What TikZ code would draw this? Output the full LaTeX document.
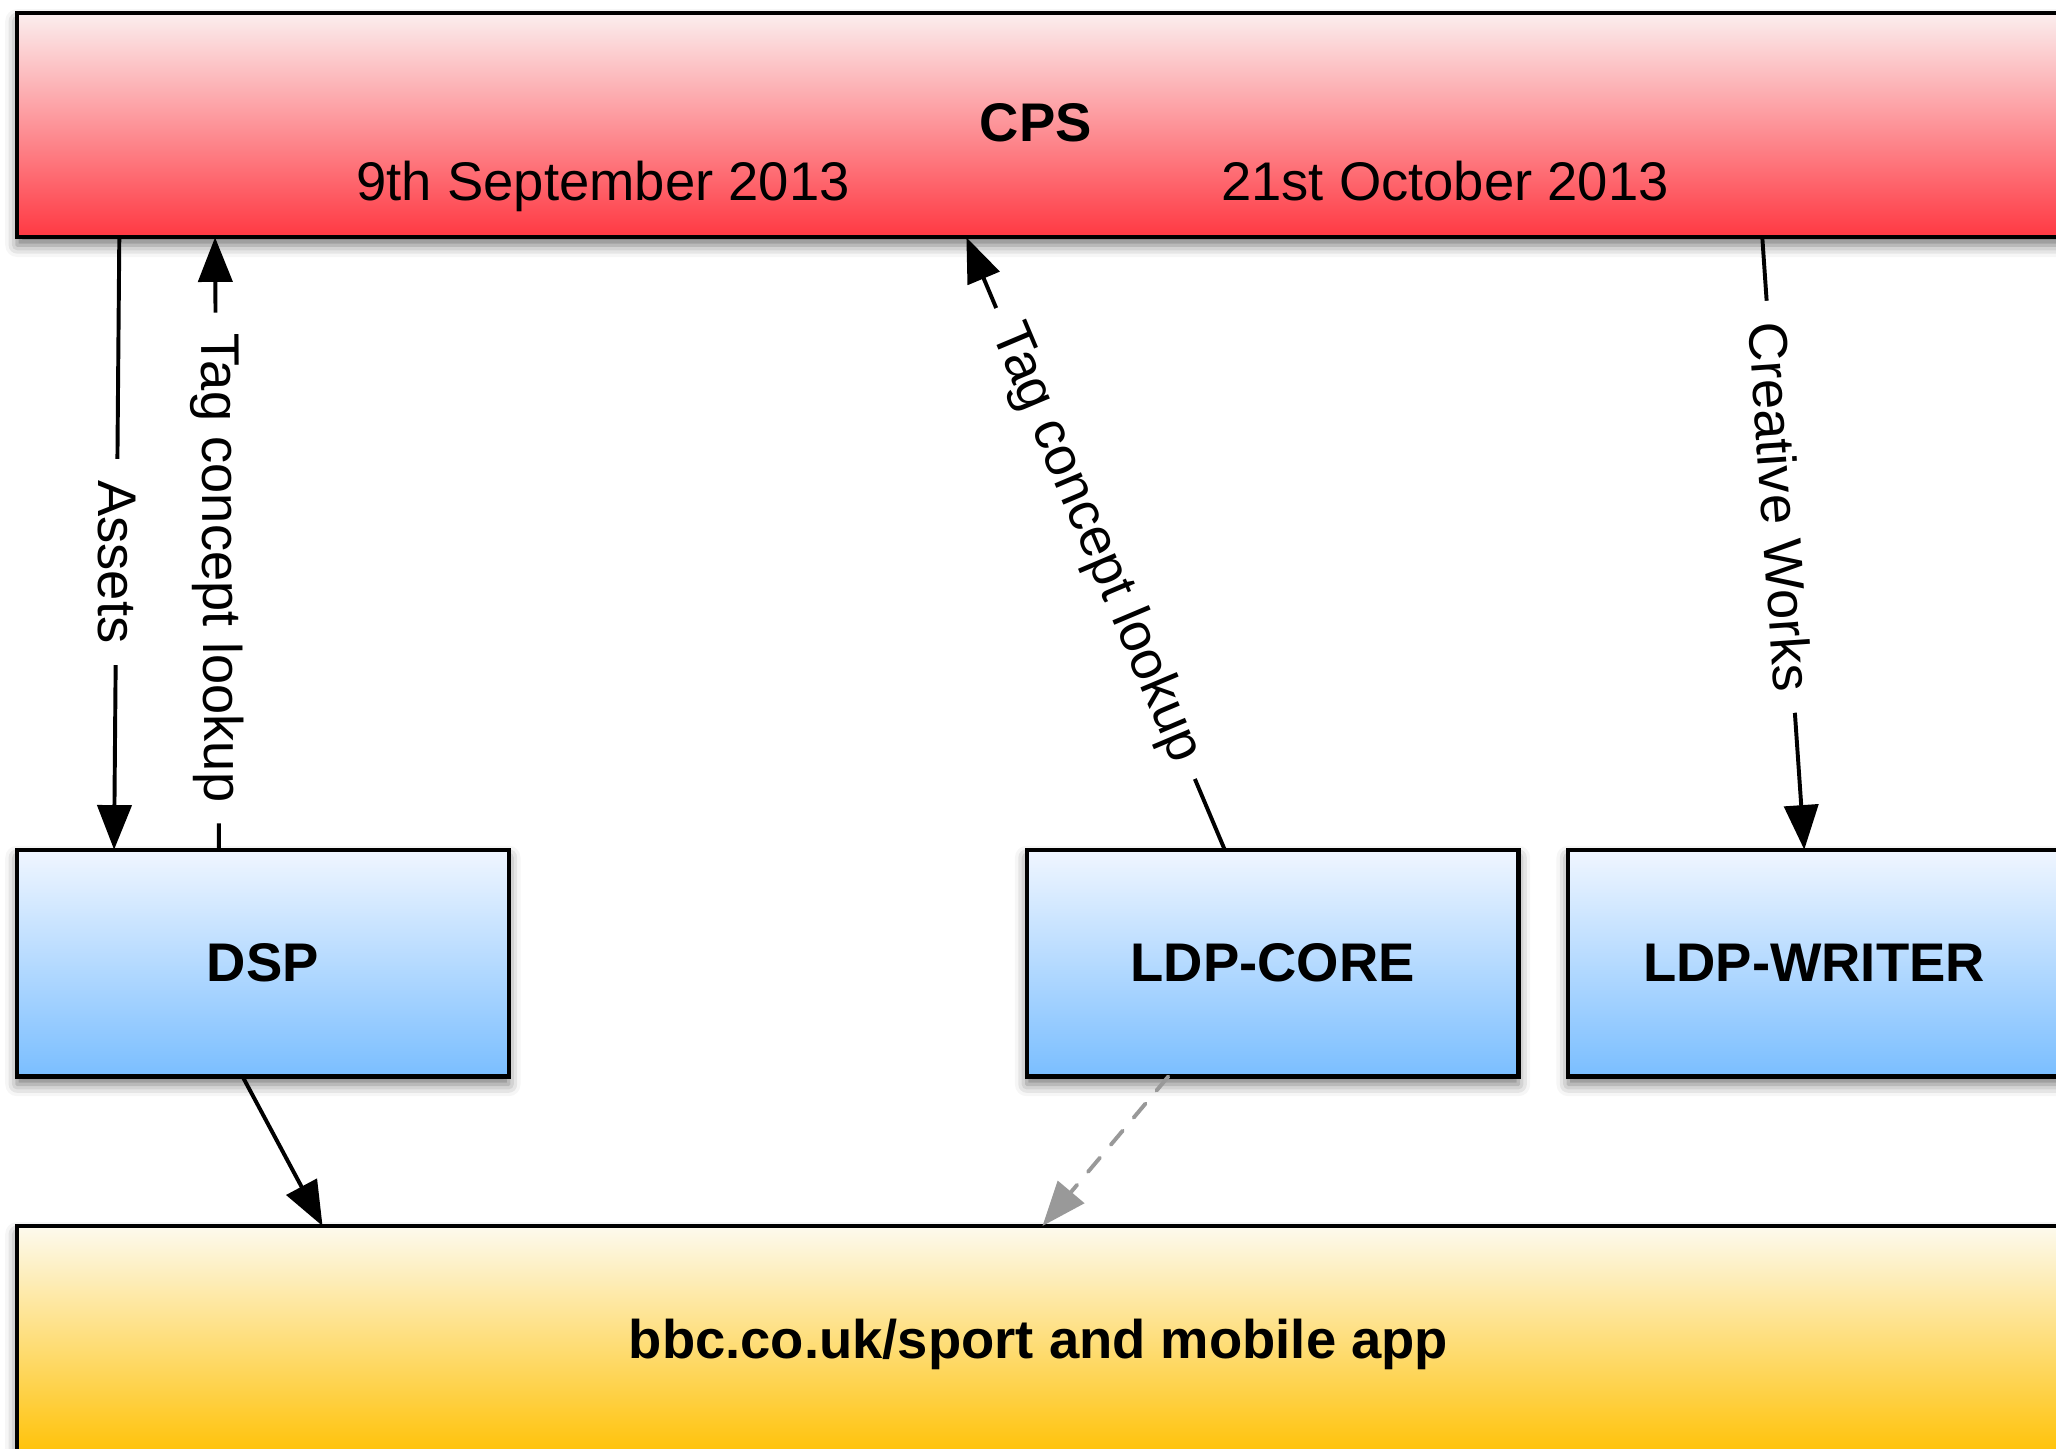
\documentclass[tikz,border=0pt]{standalone}
\usepackage{fontspec}
\setmainfont{Liberation Sans}
\usetikzlibrary{arrows.meta,positioning,shadows.blur}
\definecolor{cpstop}{RGB}{251,238,238}
\definecolor{cpsbottom}{RGB}{255,56,66}
\definecolor{ldptop}{RGB}{240,246,255}
\definecolor{ldpbottom}{RGB}{122,190,255}
\definecolor{sitetop}{RGB}{253,250,238}
\definecolor{sitebottom}{RGB}{255,192,0}
\definecolor{dashgrey}{RGB}{153,153,153}
\tikzset{
  system/.style = {draw = black, line width = 3.2pt, inner sep = 0pt, outer sep = 0pt, font = \fontsize{41.5}{50}\selectfont\bfseries, blur shadow = {shadow xshift = 0pt, shadow yshift = -6pt, shadow blur radius = 9pt, shadow opacity = 55}},
  service/.style = {system, top color = ldptop, bottom color = ldpbottom, minimum width = 375pt, minimum height = 173pt},
  feed/.style = {line width = 3pt, -{Triangle[length = 34pt, width = 26pt]}},
  feedlabel/.style = {fill = white, inner xsep = 16pt, inner ysep = 2pt, font = \fontsize{41.5}{50}\selectfont}
}
\begin{document}
\begin{tikzpicture}[x = 1pt, y = 1pt]
\clip (0,0) rectangle (1568,-1105);
\node[system, top color = cpstop, bottom color = cpsbottom, minimum width = 1560pt, minimum height = 171pt, anchor = north west] (cps) at (13,-10) {};
\node[font = \fontsize{41.5}{50}\selectfont\bfseries, anchor = base] (cpsname) at (790,-108) {CPS};
\node[font = \fontsize{41.5}{50}\selectfont, anchor = base] (golive) at (460,-153) {9th September 2013};
\node[font = \fontsize{41.5}{50}\selectfont, anchor = base] (switchover) at (1102,-153) {21st October 2013};
\node[service, anchor = north west] (dsp) at (13,-648) {DSP};
\node[service, right = 395pt of dsp] (ldpcore) {LDP-CORE};
\node[service, right = 38pt of ldpcore] (ldpwriter) {LDP-WRITER};
\node[system, top color = sitetop, bottom color = sitebottom, minimum width = 1558pt, minimum height = 180pt, anchor = north west] (site) at (13,-935) {bbc.co.uk/sport and mobile app};
\draw[feed] ([xshift = 78pt]cps.south west) -- node[feedlabel, rotate = -90, pos = 0.53] (assetslabel) {Assets} ([xshift = 74pt]dsp.north west);
\draw[feed] ([xshift = 154pt]dsp.north west) -- node[feedlabel, sloped, pos = 0.46] (dsptaglabel) {Tag concept lookup} ([xshift = 151pt]cps.south west);
\draw[feed] ([xshift = 151pt]ldpcore.north west) -- node[feedlabel, sloped, pos = 0.5] (coretaglabel) {Tag concept lookup} ([xshift = 724pt]cps.south west);
\draw[feed] ([xshift = 1331pt]cps.south west) -- node[feedlabel, sloped, pos = 0.44] (workslabel) {Creative Works} ([xshift = 180pt]ldpwriter.north west);
\draw[feed] ([xshift = 172pt]dsp.south west) -- ([xshift = 233pt]site.north west);
\draw[feed, dashgrey, dash pattern = on 14pt off 13pt, line cap = round] ([xshift = 108pt]ldpcore.south west) -- ([xshift = 782pt]site.north west);
\end{tikzpicture}
\end{document}
